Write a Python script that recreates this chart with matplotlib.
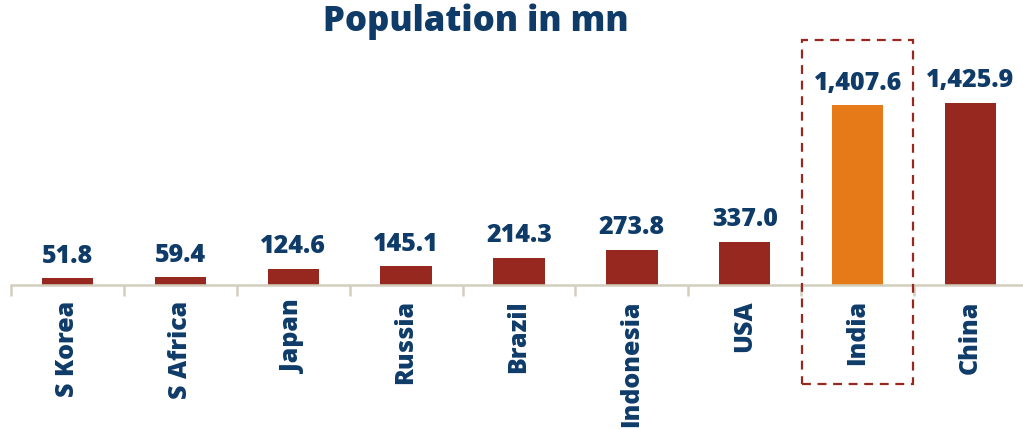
import matplotlib.pyplot as plt
import matplotlib.transforms as mtransforms
from matplotlib.patches import Rectangle
import numpy as np

countries = ['S Korea', 'S Africa', 'Japan', 'Russia', 'Brazil', 'Indonesia', 'USA', 'India', 'China']
population = [51.8, 59.4, 124.6, 145.1, 214.3, 273.8, 337.0, 1407.6, 1425.9]
highlight = 'India'

red = '#962820'
orange = '#e67a18'
navy = '#0f3b69'
axis_col = '#d3cfbd'

plt.rcParams['font.family'] = ['Open Sans', 'DejaVu Sans']

fig = plt.figure(figsize=(10.23, 4.29), dpi=100)
W, H = 1023, 429
ax = fig.add_axes([11 / W, 1 - 285 / H, 1016 / W, 245 / H])

x = np.arange(len(countries))
colors = [orange if c == highlight else red for c in countries]
ax.bar(x, population, width=0.455, color=colors)

for xi, v in zip(x, population):
    ax.annotate(f'{v:,.1f}', (xi, v), xytext=(0, 7), textcoords='offset points',
                ha='center', va='bottom', fontsize=18, fontweight='heavy', color=navy)

ax.set_xlim(-0.5, 8.5)
ax.set_ylim(0, 1920)
ax.set_yticks([])
for s in ['top', 'right', 'left']:
    ax.spines[s].set_visible(False)
ax.spines['bottom'].set_color(axis_col)
ax.spines['bottom'].set_linewidth(1.8)

ax.set_xticks(x)
ax.set_xticklabels(countries, rotation=90, fontsize=18, fontweight='heavy', color=navy)
ax.tick_params(axis='x', which='major', length=0, pad=11)
ax.set_xticks(np.arange(-0.5, 9, 1), minor=True)
ax.tick_params(axis='x', which='minor', length=8, width=1.8, color=axis_col)

# dashed box around highlighted country
i = countries.index(highlight)
trans = mtransforms.blended_transform_factory(ax.transData, fig.transFigure)
box = Rectangle((i - 0.49, 1 - 384 / H), 0.98, (384 - 40) / H, transform=trans,
                fill=False, edgecolor=red, linestyle=(0, (4, 3)), linewidth=1.6,
                clip_on=False)
fig.add_artist(box)

fig.text(476 / W, 1 - 22 / H, 'Population in mn', ha='center', va='center',
         fontsize=25, fontweight='heavy', color=navy)

fig.savefig('out.png', dpi=100)
